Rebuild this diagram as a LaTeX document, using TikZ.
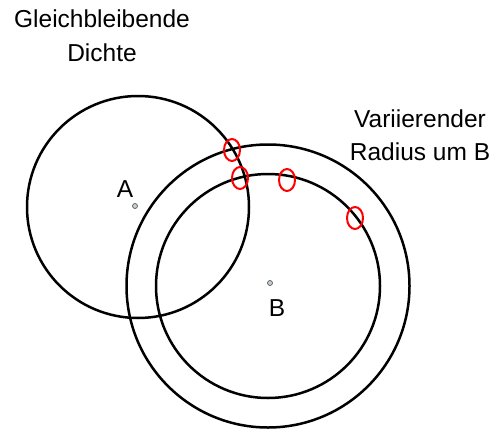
\documentclass[tikz,border=0pt]{standalone}
\usepackage{fontspec}
\setmainfont{Liberation Sans}
\usepackage{tikz}
\usetikzlibrary{calc, shapes.geometric, positioning}

\begin{document}
\begin{tikzpicture}[x=1pt, y=-1pt,
    kreis/.style={draw=black, line width=2.5pt},
    punkt/.style={circle, draw=black!65, fill=cyan!20!gray!45, line width=0.7pt, inner sep=0pt, minimum size=5pt},
    marke/.style={ellipse, draw=red, line width=2pt, inner sep=0pt, minimum width=16pt, minimum height=22pt},
    schrift/.style={font=\fontsize{24.5}{33}\selectfont, align=center, inner sep=0pt, anchor=base}]
            \useasboundingbox (0,0) rectangle (497,428);
            % 1. Mittelpunkte
            \coordinate (A) at (135,206);
            \coordinate (B) at (270,283);
            \coordinate (mA) at (138,207);
            \coordinate (mB) at (268,286);

            % 2. Kreise
            \draw[kreis] (mA) circle (111);
            \draw[kreis] (mB) circle (141.5);
            \draw[kreis] (mB) circle (112);
            \node[punkt] (pA) at (A) {};
            \node[punkt] (pB) at (B) {};
            \node[schrift] (labA) at (125,197) {A};
            \node[schrift] (labB) at (277,316) {B};

            % 3. Markierungen
            \foreach \x/\y [count=\i] in {232/150, 240/178, 287/180, 355/218} {
                \node[marke] (m\i) at (\x,\y) {};
            }

            % 4. Beschriftung
            \node[schrift] (dichte) at (102,61) {Gleichbleibende\\Dichte};
            \node[schrift] (radius) at (420,160) {Variierender\\Radius um B};
        \end{tikzpicture}
\end{document}
